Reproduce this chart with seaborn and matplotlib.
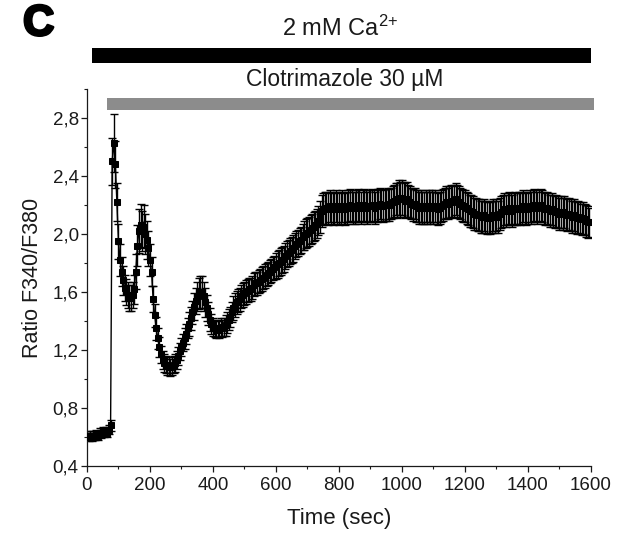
import numpy as np
import pandas as pd
import matplotlib
matplotlib.use("Agg")
import matplotlib.pyplot as plt
import matplotlib.transforms as mtransforms
import matplotlib.patheffects as pe
from matplotlib.ticker import MultipleLocator, FuncFormatter
import seaborn as sns

# Fura-2 ratio recorded every 5 s (mean of cells) and its SEM
time_step = 5
ratio = [
    0.61, 0.60, 0.61, 0.60, 0.61, 0.61, 0.62, 0.61, 0.63, 0.62,
    0.64, 0.63, 0.64, 0.63, 0.65, 0.68, 2.50, 2.63, 2.48, 2.22,
    1.95, 1.82, 1.74, 1.68, 1.63, 1.60, 1.58, 1.56, 1.56, 1.58,
    1.62, 1.74, 1.92, 2.02, 2.06, 2.02, 2.05, 2.00, 1.96, 1.90,
    1.82, 1.74, 1.55, 1.44, 1.35, 1.28, 1.22, 1.17, 1.13, 1.11,
    1.10, 1.09, 1.09, 1.08, 1.09, 1.10, 1.11, 1.13, 1.16, 1.19,
    1.22, 1.25, 1.28, 1.31, 1.35, 1.38, 1.42, 1.46, 1.50, 1.54,
    1.57, 1.59, 1.60, 1.60, 1.57, 1.53, 1.49, 1.45, 1.41, 1.38,
    1.36, 1.35, 1.34, 1.35, 1.34, 1.36, 1.35, 1.36, 1.37, 1.39,
    1.41, 1.43, 1.46, 1.49, 1.51, 1.53, 1.54, 1.55, 1.57, 1.58,
    1.59, 1.60, 1.61, 1.62, 1.62, 1.63, 1.65, 1.66, 1.66, 1.67,
    1.68, 1.69, 1.70, 1.71, 1.72, 1.73, 1.74, 1.75, 1.76, 1.77,
    1.78, 1.79, 1.80, 1.81, 1.82, 1.83, 1.85, 1.86, 1.87, 1.88,
    1.89, 1.90, 1.92, 1.93, 1.94, 1.95, 1.96, 1.98, 1.99, 2.00,
    2.01, 2.02, 2.03, 2.04, 2.05, 2.06, 2.07, 2.09, 2.12, 2.16,
    2.17, 2.18, 2.18, 2.17, 2.19, 2.18, 2.17, 2.18, 2.19, 2.18,
    2.17, 2.18, 2.19, 2.18, 2.17, 2.18, 2.19, 2.20, 2.19, 2.18,
    2.18, 2.19, 2.20, 2.19, 2.18, 2.19, 2.20, 2.19, 2.18, 2.19,
    2.19, 2.20, 2.19, 2.18, 2.19, 2.20, 2.21, 2.20, 2.19, 2.20,
    2.20, 2.21, 2.20, 2.21, 2.22, 2.23, 2.24, 2.23, 2.25, 2.24,
    2.25, 2.24, 2.23, 2.24, 2.23, 2.22, 2.21, 2.20, 2.21, 2.19,
    2.19, 2.18, 2.19, 2.18, 2.18, 2.19, 2.18, 2.19, 2.18, 2.19,
    2.18, 2.19, 2.18, 2.17, 2.18, 2.19, 2.20, 2.21, 2.22, 2.21,
    2.22, 2.23, 2.22, 2.23, 2.24, 2.23, 2.22, 2.21, 2.20, 2.19,
    2.19, 2.18, 2.17, 2.16, 2.16, 2.15, 2.14, 2.14, 2.13, 2.13,
    2.12, 2.12, 2.13, 2.12, 2.11, 2.12, 2.11, 2.12, 2.13, 2.12,
    2.13, 2.12, 2.14, 2.15, 2.16, 2.17, 2.16, 2.17, 2.18, 2.17,
    2.16, 2.17, 2.18, 2.17, 2.18, 2.17, 2.18, 2.19, 2.18, 2.17,
    2.18, 2.19, 2.18, 2.19, 2.20, 2.19, 2.18, 2.19, 2.20, 2.19,
    2.18, 2.17, 2.18, 2.17, 2.16, 2.17, 2.16, 2.15, 2.16, 2.15,
    2.14, 2.15, 2.14, 2.15, 2.14, 2.13, 2.14, 2.13, 2.12, 2.13,
    2.12, 2.11, 2.12, 2.11, 2.10, 2.11, 2.10, 2.09, 2.08, 2.08,
]
sem = [
    0.03, 0.03, 0.03, 0.03, 0.03, 0.03, 0.03, 0.03, 0.03, 0.03,
    0.03, 0.03, 0.03, 0.03, 0.03, 0.04, 0.16, 0.20, 0.16, 0.13,
    0.12, 0.11, 0.10, 0.10, 0.09, 0.09, 0.09, 0.09, 0.09, 0.09,
    0.10, 0.12, 0.14, 0.15, 0.15, 0.14, 0.15, 0.14, 0.13, 0.12,
    0.11, 0.10, 0.09, 0.08, 0.08, 0.07, 0.07, 0.06, 0.06, 0.06,
    0.06, 0.06, 0.06, 0.06, 0.06, 0.06, 0.06, 0.06, 0.06, 0.06,
    0.06, 0.06, 0.07, 0.07, 0.07, 0.08, 0.08, 0.08, 0.09, 0.09,
    0.10, 0.11, 0.11, 0.11, 0.10, 0.10, 0.09, 0.08, 0.08, 0.07,
    0.06, 0.06, 0.06, 0.06, 0.06, 0.06, 0.06, 0.06, 0.07, 0.07,
    0.07, 0.07, 0.07, 0.08, 0.08, 0.08, 0.08, 0.08, 0.08, 0.08,
    0.08, 0.08, 0.08, 0.08, 0.08, 0.08, 0.08, 0.08, 0.08, 0.08,
    0.08, 0.08, 0.08, 0.08, 0.08, 0.08, 0.08, 0.08, 0.08, 0.08,
    0.09, 0.09, 0.09, 0.09, 0.09, 0.09, 0.09, 0.09, 0.09, 0.09,
    0.09, 0.09, 0.09, 0.09, 0.09, 0.09, 0.09, 0.09, 0.10, 0.10,
    0.10, 0.10, 0.10, 0.10, 0.10, 0.10, 0.10, 0.10, 0.11, 0.11,
    0.11, 0.11, 0.11, 0.11, 0.11, 0.11, 0.11, 0.11, 0.11, 0.11,
    0.11, 0.11, 0.11, 0.11, 0.11, 0.11, 0.11, 0.11, 0.11, 0.11,
    0.11, 0.11, 0.11, 0.11, 0.11, 0.11, 0.11, 0.11, 0.11, 0.11,
    0.11, 0.11, 0.11, 0.11, 0.11, 0.11, 0.11, 0.11, 0.11, 0.11,
    0.11, 0.11, 0.11, 0.11, 0.11, 0.11, 0.11, 0.12, 0.12, 0.12,
    0.12, 0.12, 0.12, 0.12, 0.11, 0.11, 0.11, 0.11, 0.11, 0.11,
    0.11, 0.11, 0.11, 0.11, 0.11, 0.11, 0.11, 0.11, 0.11, 0.11,
    0.11, 0.11, 0.11, 0.11, 0.11, 0.11, 0.11, 0.11, 0.11, 0.11,
    0.11, 0.11, 0.11, 0.11, 0.11, 0.11, 0.11, 0.11, 0.11, 0.11,
    0.11, 0.11, 0.11, 0.11, 0.11, 0.11, 0.11, 0.11, 0.11, 0.11,
    0.11, 0.11, 0.11, 0.11, 0.11, 0.11, 0.11, 0.11, 0.11, 0.11,
    0.11, 0.11, 0.11, 0.11, 0.11, 0.11, 0.11, 0.11, 0.11, 0.11,
    0.11, 0.11, 0.11, 0.11, 0.11, 0.11, 0.11, 0.11, 0.11, 0.11,
    0.11, 0.11, 0.11, 0.11, 0.11, 0.11, 0.11, 0.11, 0.11, 0.11,
    0.11, 0.11, 0.11, 0.11, 0.11, 0.11, 0.11, 0.11, 0.11, 0.11,
    0.11, 0.11, 0.11, 0.11, 0.11, 0.11, 0.11, 0.11, 0.11, 0.11,
    0.11, 0.11, 0.11, 0.11, 0.11, 0.11, 0.11, 0.11, 0.11, 0.10,
]
time_sec = np.arange(len(ratio)) * time_step

# treatment periods (sec)
calcium_period = (15, 1600)
clotrimazole_period = (63, 1610)
calcium_label = r"2 mM Ca$^{\mathrm{2{+}}}$"
drug_label = "Clotrimazole 30 µM"

x_ticks = [0, 200, 400, 600, 800, 1000, 1200, 1400, 1600]
y_ticks = [0.4, 0.8, 1.2, 1.6, 2.0, 2.4, 2.8]

df = pd.DataFrame({"time": time_sec, "ratio": ratio, "sem": sem})

sns.set_theme(style="ticks")
plt.rcParams["font.family"] = ["Liberation Sans", "DejaVu Sans"]
plt.rcParams["mathtext.fontset"] = "custom"
plt.rcParams["mathtext.rm"] = "Liberation Sans"
plt.rcParams["mathtext.it"] = "Liberation Sans:italic"
plt.rcParams["mathtext.bf"] = "Liberation Sans:bold"
plt.rcParams["xtick.direction"] = "out"
plt.rcParams["ytick.direction"] = "out"

ink = "#1a1a1a"

fig = plt.figure(figsize=(6.23, 5.38), dpi=100)
ax = fig.add_axes([0.1396, 0.1338, 0.809, 0.7008])

ax.errorbar(df["time"], df["ratio"], yerr=df["sem"], fmt="none",
            ecolor="black", elinewidth=1.0, capsize=3.0, capthick=1.0,
            zorder=2)
sns.lineplot(data=df, x="time", y="ratio", ax=ax, color="black",
             linewidth=1.0, marker="s", markersize=4.5,
             markeredgecolor="black", markerfacecolor="black",
             errorbar=None, zorder=3)

ax.set_xlim(0, 1600)
ax.set_ylim(0.4, 3.0)
ax.set_xticks(x_ticks)
ax.set_yticks(y_ticks)
ax.xaxis.set_minor_locator(MultipleLocator(100))
ax.yaxis.set_minor_locator(MultipleLocator(0.2))
ax.yaxis.set_major_formatter(FuncFormatter(lambda v, _: f"{v:.1f}".replace(".", ",")))
ax.tick_params(which="major", length=4, width=0.9, labelsize=13.5, colors=ink, pad=2)
ax.tick_params(axis="x", which="major", pad=4)
ax.tick_params(which="minor", length=2.5, width=0.8, colors=ink)
for side in ("top", "right"):
    ax.spines[side].set_visible(False)
for side in ("left", "bottom"):
    ax.spines[side].set_linewidth(0.9)
    ax.spines[side].set_color(ink)

ax.set_xlabel("Time (sec)", fontsize=16, color=ink, labelpad=10)
ax.set_ylabel("Ratio F340/F380", fontsize=15.5, color=ink, labelpad=7)

# treatment bars above the trace
trans = mtransforms.blended_transform_factory(ax.transData, ax.transAxes)
ax.fill_between(list(calcium_period), 1.069, 1.109, transform=trans,
                color="black", linewidth=0, clip_on=False)
ax.fill_between(list(clotrimazole_period), 0.944, 0.976, transform=trans,
                color="#8c8c8c", linewidth=0, clip_on=False)
ax.text(803, 1.160, calcium_label, transform=trans, ha="center", va="center",
        fontsize=17, color=ink)
ax.text(819, 1.025, drug_label, transform=trans, ha="center", va="center",
        fontsize=16.5, color=ink)

fig.text(0.062, 0.955, "C", fontsize=31, fontweight="bold", ha="center",
         va="center", color="black",
         path_effects=[pe.withStroke(linewidth=2.0, foreground="black")])

fig.savefig("out.png", dpi=100)
